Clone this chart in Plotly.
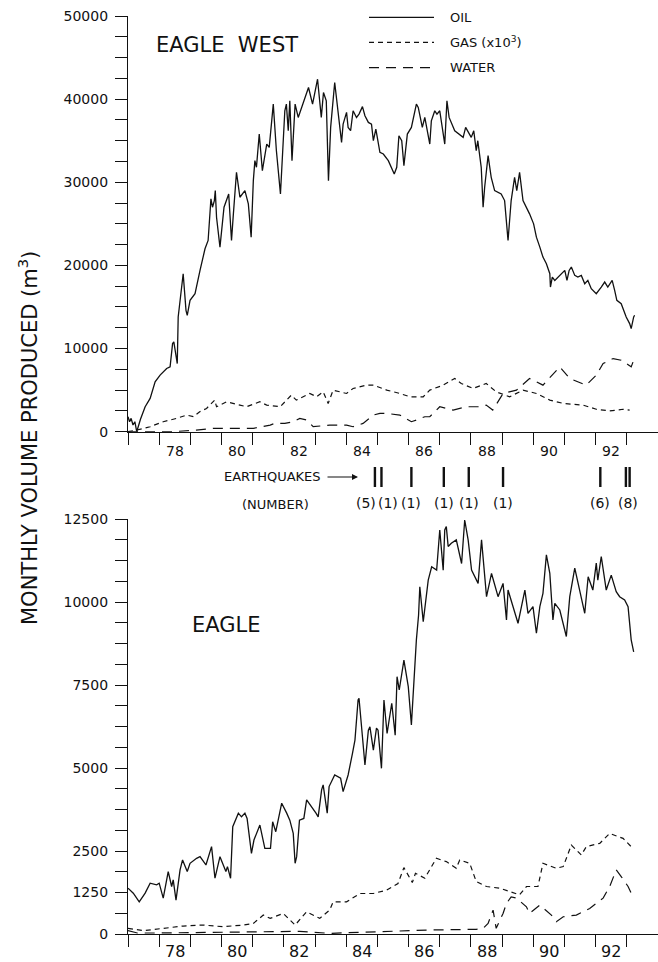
import plotly.graph_objects as go

# ---------------- DATA ----------------
# Eagle West (top panel), decimal year (19xx) and monthly volume (m3)
ew_oil_t = [77.00, 77.05, 77.10, 77.16, 77.22, 77.28, 77.40, 77.55, 77.71, 77.87, 78.03, 78.24, 78.35, 78.43, 78.47,
            78.58, 78.61, 78.72, 78.77, 78.86, 78.90, 78.99, 79.15, 79.31, 79.47, 79.57, 79.66, 79.71, 79.77, 79.80,
            79.84, 79.95, 80.00, 80.08, 80.23, 80.32, 80.38, 80.48, 80.59, 80.75, 80.86, 80.95, 81.02, 81.07, 81.12,
            81.21, 81.31, 81.45, 81.53, 81.66, 81.76, 81.89, 82.03, 82.08, 82.14, 82.19, 82.26, 82.36, 82.46, 82.68,
            82.79, 82.92, 83.08, 83.20, 83.27, 83.36, 83.43, 83.50, 83.63, 83.85, 83.90, 84.01, 84.06, 84.14, 84.22,
            84.33, 84.41, 84.52, 84.60, 84.71, 84.81, 84.87, 84.95, 85.08, 85.19, 85.35, 85.54, 85.62, 85.69, 85.78,
            85.85, 85.96, 86.09, 86.25, 86.31, 86.44, 86.52, 86.68, 86.73, 86.84, 86.91, 87.00, 87.16, 87.23, 87.30,
            87.48, 87.75, 87.83, 88.01, 88.09, 88.17, 88.22, 88.33, 88.39, 88.44, 88.55, 88.65, 88.76, 88.97, 89.08,
            89.19, 89.29, 89.40, 89.47, 89.56, 89.67, 89.88, 90.01, 90.10, 90.21, 90.31, 90.42, 90.53, 90.55, 90.61,
            90.69, 90.79, 91.01, 91.08, 91.15, 91.22, 91.33, 91.43, 91.54, 91.65, 91.75, 91.86, 92.02, 92.18, 92.29,
            92.39, 92.53, 92.61, 92.68, 92.82, 92.98, 93.09, 93.14, 93.22, 93.25]
ew_oil_v = [1800, 1200, 1600, 800, 1200, 0, 1500, 3000, 4000, 6000, 6800, 7600, 7800, 10600, 10800,
            8200, 13800, 17000, 19000, 14600, 14000, 15800, 16600, 19400, 22000, 23000, 28000, 27000, 27800, 29000,
            25800, 22200, 24200, 27000, 28600, 23000, 26200, 31200, 28200, 29000, 27400, 23400, 30200, 32600, 31800,
            35800, 31400, 34600, 34200, 39400, 33800, 28600, 38600, 39400, 36200, 39800, 32600, 39400, 37800, 40200,
            41400, 39400, 42400, 37800, 40800, 39800, 30200, 36600, 42000, 34800, 37000, 38400, 36600, 36200, 38600,
            37800, 38200, 39100, 38000, 37200, 37000, 35000, 36400, 33600, 33400, 32600, 31000, 31800, 35600, 35000,
            32000, 35800, 36600, 39400, 39000, 36600, 37800, 34600, 37400, 38600, 38200, 38600, 34600, 39800, 37800,
            36200, 35400, 36600, 35400, 36200, 33800, 35000, 31800, 27000, 29400, 33200, 30600, 29000, 28600, 27800,
            23000, 27800, 30600, 29000, 31200, 27800, 26200, 25000, 23400, 22200, 21000, 20200, 19000, 17400, 18600,
            18200, 18600, 19400, 18200, 19400, 19800, 18800, 18600, 18800, 17800, 18200, 17200, 16600, 17400, 18000,
            17400, 18200, 17000, 15800, 15400, 13800, 13000, 12400, 13800, 14000]

ew_gas_t = [77.00, 77.28, 77.71, 78.13, 78.56, 78.88, 79.10, 79.30, 79.52, 79.78, 79.84, 80.16, 80.59, 80.80, 81.23,
            81.45, 81.88, 82.24, 82.40, 82.83, 83.05, 83.26, 83.42, 83.58, 84.01, 84.22, 84.65, 84.87, 85.30, 85.72,
            86.04, 86.47, 86.68, 87.11, 87.48, 87.69, 88.07, 88.49, 88.81, 89.24, 89.67, 90.10, 90.53, 90.96, 91.60,
            92.02, 92.45, 92.88, 93.09]
ew_gas_v = [0, 200, 600, 1200, 1600, 2000, 1800, 2400, 2800, 3800, 3000, 3600, 3200, 3000, 3600,
            3200, 3000, 4400, 3800, 4600, 4200, 4800, 3400, 5000, 4600, 5200, 5600, 5600, 5000, 4600,
            4200, 4200, 5000, 5600, 6400, 5800, 5200, 5800, 4800, 4200, 5000, 4600, 3800, 3400, 3200,
            2700, 2500, 2700, 2600]

ew_wat_t = [77.00, 77.49, 78.45, 79.19, 79.73, 80.38, 81.02, 81.56, 81.71, 82.03, 82.30, 82.51, 82.73, 82.94, 83.47,
            84.01, 84.22, 84.54, 84.87, 85.08, 85.30, 85.72, 86.09, 86.25, 86.52, 86.68, 87.00, 87.43, 87.85, 88.28,
            88.49, 88.70, 89.03, 89.46, 89.88, 90.31, 90.85, 91.17, 91.70, 92.02, 92.24, 92.56, 92.82, 93.14, 93.22]
ew_wat_v = [0, 0, 0, 200, 400, 400, 400, 800, 1000, 1000, 1200, 1600, 1400, 600, 800,
            800, 600, 1000, 2000, 2200, 2200, 2000, 1200, 1400, 1800, 1800, 3000, 2600, 3000, 3000,
            3200, 2600, 4600, 5000, 6400, 5600, 7800, 6400, 5600, 6800, 8200, 8800, 8600, 7800, 8600]

# Eagle (bottom panel)
e_oil_t = [77.00, 77.17, 77.36, 77.55, 77.71, 77.92, 78.00, 78.13, 78.29, 78.40, 78.45, 78.54, 78.67, 78.75, 78.90,
           78.99, 79.20, 79.31, 79.50, 79.68, 79.79, 79.95, 80.14, 80.19, 80.29, 80.36, 80.54, 80.64, 80.75, 80.82,
           80.96, 81.04, 81.23, 81.39, 81.57, 81.64, 81.74, 81.93, 82.09, 82.19, 82.30, 82.36, 82.41, 82.50, 82.64,
           82.73, 83.03, 83.10, 83.21, 83.26, 83.39, 83.45, 83.63, 83.82, 83.90, 84.06, 84.20, 84.28, 84.38, 84.41,
           84.52, 84.60, 84.71, 84.76, 84.87, 84.97, 85.02, 85.13, 85.21, 85.31, 85.46, 85.57, 85.63, 85.70, 85.85,
           85.99, 86.09, 86.20, 86.25, 86.32, 86.36, 86.47, 86.63, 86.74, 86.90, 87.00, 87.11, 87.16, 87.21, 87.27,
           87.37, 87.53, 87.70, 87.80, 87.91, 88.02, 88.23, 88.34, 88.50, 88.66, 88.87, 89.03, 89.14, 89.19, 89.35,
           89.51, 89.62, 89.73, 89.83, 89.99, 90.10, 90.21, 90.31, 90.42, 90.53, 90.63, 90.69, 90.85, 91.06, 91.17,
           91.33, 91.49, 91.65, 91.76, 91.91, 92.02, 92.07, 92.18, 92.29, 92.34, 92.50, 92.66, 92.77, 92.93, 93.04,
           93.09, 93.14, 93.22]
e_oil_v = [1380, 1230, 970, 1230, 1530, 1480, 1530, 1080, 1880, 1430, 1630, 1020, 1930, 2230, 1880,
           2130, 2280, 2330, 2080, 2630, 1680, 2330, 1880, 2030, 1680, 3230, 3640, 3530, 3640, 3480,
           2430, 2830, 3280, 2580, 2580, 3380, 3080, 3940, 3640, 3430, 3030, 2130, 2330, 3430, 3480,
           4040, 3640, 3530, 4340, 4490, 3640, 4440, 4790, 4690, 4290, 4790, 5440, 5840, 7050, 7100,
           5940, 5090, 6140, 6240, 5540, 6200, 6140, 4990, 7050, 6040, 6950, 5990, 7750, 7350, 8250,
           7450, 6300, 8350, 8860, 9600, 10460, 9410, 10660, 11060, 10960, 12170, 10960, 12170, 12270, 11670,
           11770, 11870, 11160, 12470, 11870, 10960, 10560, 11870, 10160, 10860, 10160, 10560, 9460, 10360, 9860,
           9360, 9860, 10360, 9660, 9860, 9060, 9860, 10260, 11420, 10860, 9460, 9960, 9760, 8960, 10160,
           11020, 10360, 9660, 10760, 10360, 11170, 10660, 11370, 10760, 10360, 10810, 10310, 10160, 10060, 9860,
           9260, 8860, 8500]

e_gas_t = [77.00, 77.49, 78.13, 78.77, 79.41, 80.05, 80.70, 81.02, 81.34, 81.56, 81.98, 82.36, 82.73, 83.15, 83.47,
           83.58, 84.01, 84.44, 84.87, 85.29, 85.66, 85.85, 86.12, 86.22, 86.52, 86.68, 86.89, 87.21, 87.53, 87.64,
           87.96, 88.17, 88.50, 88.92, 89.35, 89.56, 89.78, 90.15, 90.31, 90.74, 90.96, 91.22, 91.54, 91.70, 92.13,
           92.45, 92.88, 93.14]
e_gas_v = [170, 100, 170, 240, 270, 220, 270, 320, 570, 470, 620, 270, 670, 470, 720,
           970, 970, 1220, 1220, 1320, 1520, 2000, 1550, 1830, 1680, 1930, 2280, 2180, 1980, 2230,
           2130, 1580, 1430, 1380, 1230, 1180, 1430, 1430, 2130, 1980, 2030, 2680, 2380, 2630, 2730,
           3030, 2880, 2630]

e_wat_t = [77.00, 77.30, 78.00, 79.00, 80.00, 81.00, 82.00, 82.50, 83.47, 84.50, 85.61, 86.68, 88.17, 88.39, 88.55,
           88.71, 88.81, 89.03, 89.14, 89.29, 89.46, 89.78, 89.88, 90.21, 90.58, 90.74, 90.96, 91.38, 91.81, 92.24,
           92.45, 92.66, 92.82, 93.04, 93.14]
e_wat_v = [100, 30, 30, 40, 40, 50, 60, 80, 20, 50, 70, 120, 140, 170, 320,
           720, 170, 620, 920, 1120, 1080, 820, 620, 870, 570, 370, 520, 570, 770, 1080,
           1430, 1930, 1730, 1430, 1230]

# Earthquakes between the panels
eq_years = [84.92, 85.13, 86.09, 87.13, 87.93, 89.03, 92.15, 92.97, 93.09]
eq_label_years = [84.92, 85.13, 86.09, 87.13, 87.93, 89.03, 92.15, 93.03]
eq_label_text = ["(5)", "(1)", "(1)", "(1)", "(1)", "(1)", "(6)", "(8)"]

# Axis ticks
x_ticks = list(range(77, 95))
x_label_years = [78, 80, 82, 84, 86, 88, 90, 92]
top_y_labels = [0, 10000, 20000, 30000, 40000, 50000]
top_y_ticks = list(range(0, 50001, 2500))
bot_y_labels = [0, 1250, 2500, 5000, 7500, 10000, 12500]
bot_y_ticks = list(range(0, 12501, 625))

# ---------------- FIGURE ----------------
W, H = 658, 962
ML, MR, MT, MB = 128, 0, 16, 28
PW, PH = W - ML - MR, H - MT - MB


def px(xp):
    return (xp - ML) / PW


def py(yp):
    return (H - MB - yp) / PH


FONT = "DejaVu Sans"
BLACK = "#111111"

fig = go.Figure()
line_oil = dict(color=BLACK, width=1.3)
line_gas = dict(color=BLACK, width=1.2, dash="5px,4px")
line_wat = dict(color=BLACK, width=1.2, dash="10px,7px")

fig.add_trace(go.Scatter(x=ew_oil_t, y=ew_oil_v, mode="lines", line=line_oil, xaxis="x", yaxis="y"))
fig.add_trace(go.Scatter(x=ew_gas_t, y=ew_gas_v, mode="lines", line=line_gas, xaxis="x", yaxis="y"))
fig.add_trace(go.Scatter(x=ew_wat_t, y=ew_wat_v, mode="lines", line=line_wat, xaxis="x", yaxis="y"))
fig.add_trace(go.Scatter(x=e_oil_t, y=e_oil_v, mode="lines", line=line_oil, xaxis="x2", yaxis="y2"))
fig.add_trace(go.Scatter(x=e_gas_t, y=e_gas_v, mode="lines", line=line_gas, xaxis="x2", yaxis="y2"))
fig.add_trace(go.Scatter(x=e_wat_t, y=e_wat_v, mode="lines", line=line_wat, xaxis="x2", yaxis="y2"))

top_dom = [py(431.7), 1.0]
bot_dom = [0.0, py(519)]


def xaxis_ticks(anchor):
    # axis line and yearly tick marks; labels are placed between ticks below
    return dict(
        domain=[0, 1], range=[77, 94], anchor=anchor,
        showline=True, linecolor=BLACK, linewidth=1.3,
        showgrid=False, zeroline=False,
        tickmode="array", tickvals=x_ticks, ticktext=["" for _ in x_ticks],
        ticks="outside", ticklen=12, tickcolor=BLACK, tickwidth=1.2,
    )


def yaxis_cfg(anchor, dom, rng, labels, ticks):
    return dict(
        domain=dom, range=rng, anchor=anchor,
        showline=True, linecolor=BLACK, linewidth=1.3,
        showgrid=False, zeroline=False,
        tickmode="array", tickvals=ticks,
        ticktext=[str(v) if v in labels else "" for v in ticks],
        ticks="outside", ticklen=12, tickcolor=BLACK, tickwidth=1.2,
        tickfont=dict(family=FONT, size=14, color=BLACK),
        ticklabelstandoff=4,
    )


fig.update_layout(
    width=W, height=H,
    margin=dict(l=ML, r=MR, t=MT, b=MB),
    paper_bgcolor="white", plot_bgcolor="white",
    showlegend=False,
    xaxis=xaxis_ticks("y"),
    yaxis=yaxis_cfg("x", top_dom, [0, 50000], top_y_labels, top_y_ticks),
    xaxis2=xaxis_ticks("y2"),
    yaxis2=yaxis_cfg("x2", bot_dom, [0, 12500], bot_y_labels, bot_y_ticks),
)

ann = []
shapes = []


def text(t, xp, yp, size, xanchor="center", **kw):
    return dict(text=t, x=px(xp), y=py(yp), xref="paper", yref="paper",
                xanchor=xanchor, yanchor="middle", showarrow=False,
                font=dict(family=FONT, size=size, color=BLACK), **kw)


# x tick labels, centred on the labelled year (between the yearly ticks)
for xr, yp, size in (("x", 451, 14), ("x2", 951, 16)):
    for yr in x_label_years:
        ann.append(dict(text=str(yr), x=yr + 0.5, y=py(yp), xref=xr, yref="paper",
                        xanchor="center", yanchor="middle", showarrow=False,
                        borderpad=0,
                        font=dict(family=FONT, size=size, color=BLACK)))

# panel titles
ann.append(text("EAGLE  WEST", 226.5, 45, 21))
ann.append(text("EAGLE", 226.5, 625, 21))

# y-axis title
ann.append(text("MONTHLY VOLUME PRODUCED (m<sup>3</sup>)", 28, 438, 21, textangle=-90))

# legend (drawn manually)
leg = [("OIL", line_oil, 17.3), ("GAS (x10<sup>3</sup>)", line_gas, 42.3), ("WATER", line_wat, 67.7)]
for txt, ln, yy in leg:
    shapes.append(dict(type="line", xref="paper", yref="paper", x0=px(369), x1=px(434),
                       y0=py(yy), y1=py(yy), line=dict(color=BLACK, width=ln["width"],
                                                        dash=ln.get("dash", "solid"))))
    ann.append(text(txt, 448, yy, 13, xanchor="left"))

# earthquake bars
for yr in eq_years:
    shapes.append(dict(type="line", xref="x", yref="paper", x0=yr, x1=yr,
                       y0=py(487), y1=py(467), line=dict(color=BLACK, width=2.4)))
shifts = [-9, 7, 0, 0, 0, 0, 0, 0]
for yr, t, s in zip(eq_label_years, eq_label_text, shifts):
    ann.append(dict(text=t, x=yr, y=py(503), xref="x", yref="paper", xshift=s,
                    xanchor="center", yanchor="middle",
                    showarrow=False, font=dict(family=FONT, size=14, color=BLACK)))

ann.append(text("EARTHQUAKES", 323, 477, 13, xanchor="right"))
ann.append(dict(text="", x=px(358), y=py(477), xref="paper", yref="paper",
                showarrow=True, ax=-32, ay=0, arrowhead=2, arrowsize=1, arrowwidth=1.2,
                arrowcolor=BLACK))
ann.append(text("(NUMBER)", 275, 504, 13))

fig.update_layout(annotations=ann, shapes=shapes)
# remove the browser's default 8px body margin so the figure fills the window exactly
fig.write_html("out.html", config={"displayModeBar": False},
               post_script="document.body.style.margin='0px';")
